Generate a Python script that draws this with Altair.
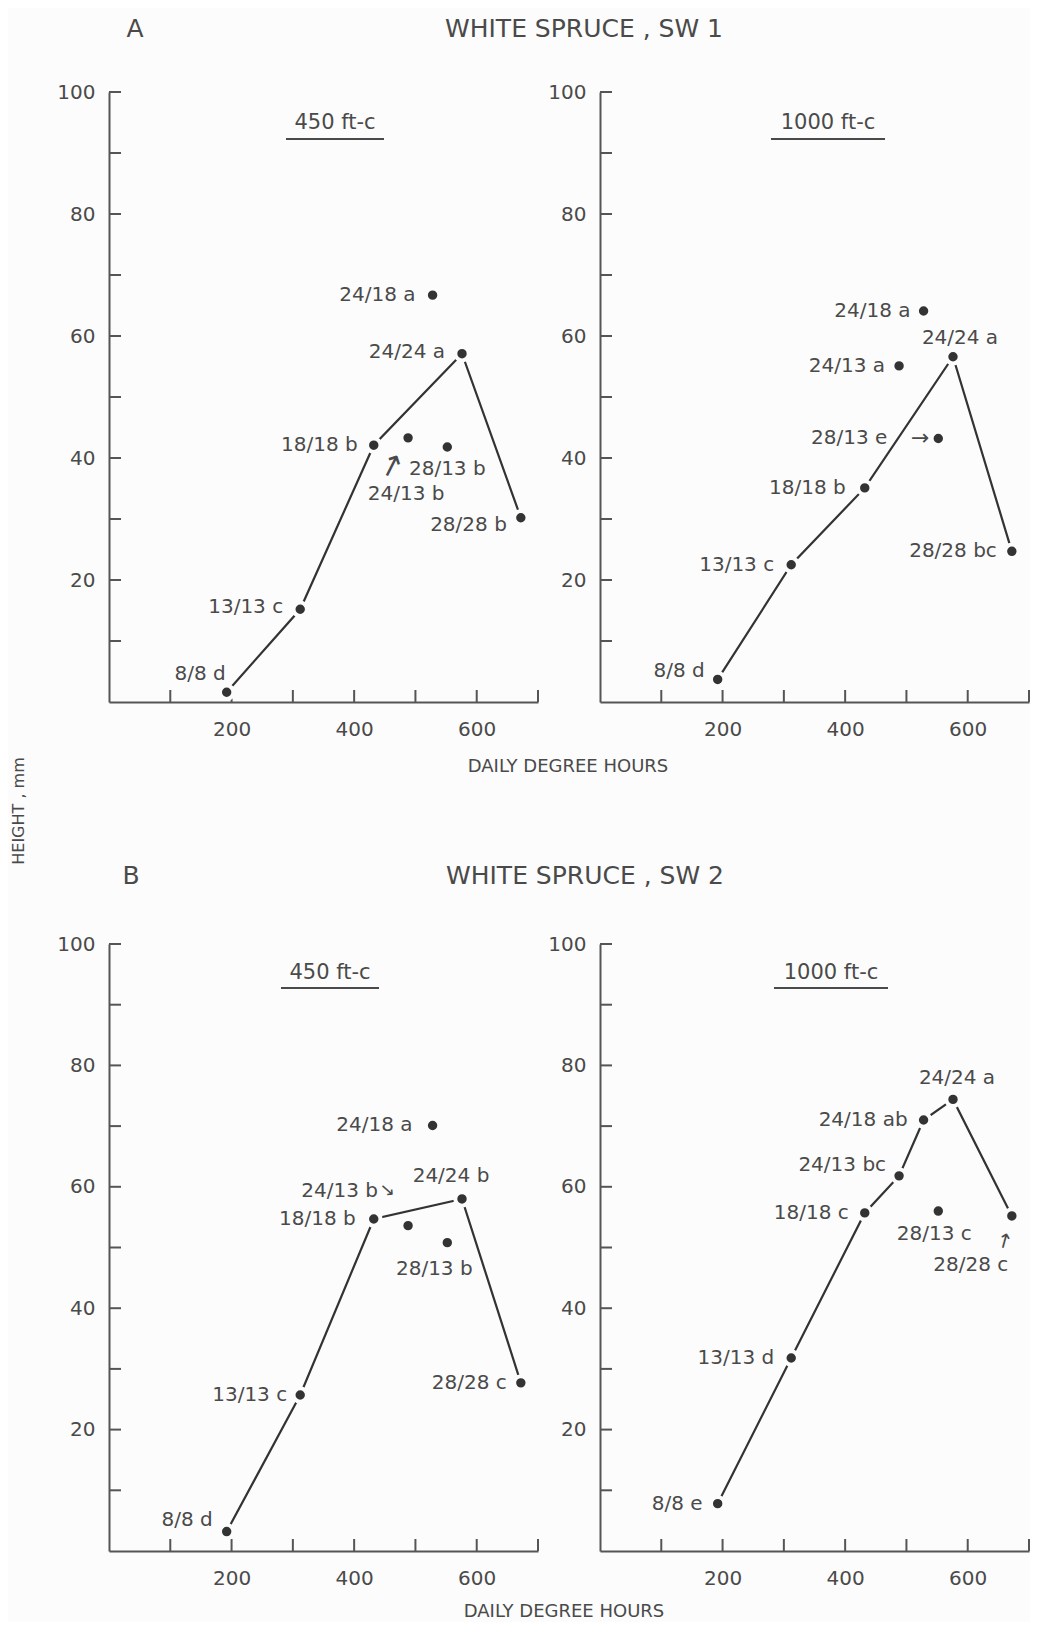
import math
import altair as alt
import pandas as pd

# ---------------- data ----------------
treatments = ["8/8", "13/13", "18/18", "24/24", "28/28", "24/18", "24/13", "28/13"]
degree_hours = [192, 312, 432, 576, 672, 528, 488, 552]

height_A450 = [1.6, 15.2, 42.1, 57.1, 30.2, 66.7, 43.3, 41.8]
letters_A450 = ["d", "c", "b", "a", "b", "a", "b", "b"]
height_A1000 = [3.7, 22.5, 35.1, 56.6, 24.7, 64.1, 55.1, 43.2]
letters_A1000 = ["d", "c", "b", "a", "bc", "a", "a", "e"]
height_B450 = [3.2, 25.7, 54.7, 58.0, 27.7, 70.1, 53.6, 50.8]
letters_B450 = ["d", "c", "b", "b", "c", "a", "b", "b"]
height_B1000 = [7.8, 31.8, 55.7, 74.4, 55.2, 71.0, 61.8, 56.0]
letters_B1000 = ["e", "d", "c", "a", "c", "ab", "bc", "c"]

line_diag = ["8/8", "13/13", "18/18", "24/24", "28/28"]
line_B1000 = ["8/8", "13/13", "18/18", "24/13", "24/18", "24/24", "28/28"]

x_ticks = [100, 200, 300, 400, 500, 600, 700]
x_labels = [200, 400, 600]
y_ticks = [10, 20, 30, 40, 50, 60, 70, 80, 90, 100]
y_labels = [20, 40, 60, 80, 100]

# ---------------- styles ----------------
FONT = "DejaVu Sans"
TEXT = "#4a4a4a"
AXIS = "#555555"
INK = "#333333"
BG = "#fcfcfc"
W = 429
H_A = 610
H_B = 607
TICK = 12
LABEL_SIZE = 20
SVG_W = 1022
SVG_H = 1614
ORIGIN = (101, 84)  # top-left of first plot inside the svg

# label placement: treatment -> (align, dx, dy)
PLACE_A450 = {"8/8": ("right", -1, -18), "13/13": ("right", -17, -2), "18/18": ("right", -16, 0),
              "24/24": ("right", -17, -2), "28/28": ("right", -14, 7), "24/18": ("right", -17, 0),
              "24/13": ("center", -2, 56), "28/13": ("center", 0, 22)}
PLACE_A1000 = {"8/8": ("right", -13, -8), "13/13": ("right", -17, 0), "18/18": ("right", -19, 0),
               "24/24": ("center", 7, -19), "28/28": ("right", -15, 0), "24/18": ("right", -13, 0),
               "24/13": ("right", -14, 0), "28/13": ("right", -51, 0)}
PLACE_B450 = {"8/8": ("right", -14, -12), "13/13": ("right", -13, 0), "18/18": ("right", -18, 0),
              "24/24": ("center", -11, -23), "28/28": ("right", -14, 0), "24/18": ("right", -20, 0),
              "24/13": ("right", -30, -35), "28/13": ("center", -13, 26)}
PLACE_B1000 = {"8/8": ("right", -15, 0), "13/13": ("right", -17, 0), "18/18": ("right", -16, 0),
               "24/24": ("center", 4, -21), "28/28": ("center", -41, 49), "24/18": ("right", -16, 0),
               "24/13": ("right", -13, -11), "28/13": ("center", -4, 23)}

# arrows: (treatment, screen dx, screen dy, angle, size)
ARROWS_A450 = [("24/13", -16, 28, 297, 30)]
ARROWS_A1000 = [("28/13", -18, 0, 0, 22)]
ARROWS_B450 = [("24/13", -21, -35, 41, 18)]
ARROWS_B1000 = [("28/28", -7, 25, 285, 20)]

XS = alt.Scale(domain=[0, 700], nice=False, zero=False)
YS = alt.Scale(domain=[0, 100], nice=False, zero=False)
XAXIS = alt.Axis(values=x_labels, ticks=False, tickSize=0, grid=False, title=None,
                 labelPadding=17, labelFontSize=20, labelFont=FONT, labelColor=TEXT,
                 domainColor=AXIS, domainWidth=2, labelFlush=False)
YAXIS = alt.Axis(values=y_labels, ticks=False, tickSize=0, grid=False, title=None,
                 labelPadding=14, labelFontSize=20, labelFont=FONT, labelColor=TEXT,
                 domainColor=AXIS, domainWidth=2, labelFlush=False)


def X(field):
    return alt.X(field, scale=XS, axis=XAXIS)


def Y(field):
    return alt.Y(field, scale=YS, axis=YAXIS)


def rot_offset(sx, sy, ang):
    # vega applies dx/dy after rotation: convert a screen offset to the rotated frame
    t = math.radians(ang)
    return (sx * math.cos(t) + sy * math.sin(t), -sx * math.sin(t) + sy * math.cos(t))


def panel(heights, letters, line_set, place, arrows, light, light_pos, underline, H, extras):
    df = pd.DataFrame({"treatment": treatments, "dh": degree_hours,
                       "height": heights, "letter": letters})
    df["label"] = df["treatment"] + " " + df["letter"]

    base = alt.Chart(df)
    layers = []
    layers.append(
        base.transform_filter(alt.FieldOneOfPredicate(field="treatment", oneOf=line_set))
        .mark_line(color=INK, strokeWidth=2.2)
        .encode(x=X("dh:Q"), y=Y("height:Q"), order="dh:Q")
    )
    # inward ticks
    layers.append(
        alt.Chart(pd.DataFrame({"dh": x_ticks})).mark_rule(color=AXIS, strokeWidth=2)
        .encode(x=X("dh:Q"), y=alt.value(H), y2=alt.value(H - TICK))
    )
    layers.append(
        alt.Chart(pd.DataFrame({"height": y_ticks})).mark_rule(color=AXIS, strokeWidth=2)
        .encode(y=Y("height:Q"), x=alt.value(0), x2=alt.value(TICK))
    )
    layers.append(
        base.mark_circle(size=180, color=INK, opacity=1, stroke=BG, strokeWidth=4, strokeOpacity=1)
        .encode(x=X("dh:Q"), y=Y("height:Q"))
    )
    for t in treatments:
        a, dx, dy = place[t]
        layers.append(
            base.transform_filter(alt.datum.treatment == t)
            .mark_text(align=a, baseline="middle", dx=dx, dy=dy, font=FONT, fontSize=LABEL_SIZE,
                       color=TEXT)
            .encode(x=X("dh:Q"), y=Y("height:Q"), text="label:N")
        )
    for t, sx, sy, ang, sz in arrows:
        rdx, rdy = rot_offset(sx, sy, ang)
        layers.append(
            base.transform_filter(alt.datum.treatment == t)
            .mark_text(align="center", baseline="middle", dx=rdx, dy=rdy, angle=ang, font=FONT,
                       fontSize=sz, color=TEXT)
            .encode(x=X("dh:Q"), y=Y("height:Q"), text=alt.value("→"))
        )
    lx, ly = light_pos
    layers.append(
        alt.Chart(pd.DataFrame({"t": [light]}))
        .mark_text(align="center", baseline="middle", font=FONT, fontSize=21, color=TEXT)
        .encode(text="t:N", x=alt.value(lx), y=alt.value(ly))
    )
    ux1, ux2, uy = underline
    layers.append(
        alt.Chart(pd.DataFrame({"t": [light]})).mark_rule(color=TEXT, strokeWidth=2)
        .encode(x=alt.value(ux1), x2=alt.value(ux2), y=alt.value(uy))
    )
    for txt, px, py, fs, ang in extras:
        layers.append(
            alt.Chart(pd.DataFrame({"t": [txt]}))
            .mark_text(align="center", baseline="middle", font=FONT, fontSize=fs, color=TEXT, angle=ang)
            .encode(text="t:N", x=alt.value(px), y=alt.value(py))
        )
    return alt.layer(*layers).properties(width=W, height=H)


A450 = panel(height_A450, letters_A450, line_diag, PLACE_A450, ARROWS_A450, "450 ft-c",
             (226, 31), (177, 275, 47), H_A,
             [("A", 26, -63, 25, 0), ("WHITE SPRUCE , SW 1", 475, -63, 25, 0),
              ("DAILY DEGREE HOURS", 459, 675, 18, 0), ("HEIGHT , mm", -90, 719, 16, 270)])
A1000 = panel(height_A1000, letters_A1000, line_diag, PLACE_A1000, ARROWS_A1000, "1000 ft-c",
              (228, 31), (171, 285, 47), H_A, [])
B450 = panel(height_B450, letters_B450, line_diag, PLACE_B450, ARROWS_B450, "450 ft-c",
             (221, 29), (172, 270, 44), H_B,
             [("B", 22, -68, 25, 0), ("WHITE SPRUCE , SW 2", 476, -68, 25, 0),
              ("DAILY DEGREE HOURS", 455, 668, 18, 0)])
B1000 = panel(height_B1000, letters_B1000, line_B1000, PLACE_B1000, ARROWS_B1000, "1000 ft-c",
              (231, 29), (174, 288, 44), H_B, [])

chart = alt.concat(A450, A1000, B450, B1000, columns=2,
                   spacing={"row": 242, "column": 62}, bounds="flush").properties(
    autosize=alt.AutoSizeParams(type="none"),
    padding={"left": ORIGIN[0], "top": ORIGIN[1],
             "right": SVG_W - ORIGIN[0], "bottom": SVG_H - ORIGIN[1]},
    background=BG,
).configure_view(stroke=None)

chart.save("out.html", embed_options={"renderer": "svg", "actions": False})
